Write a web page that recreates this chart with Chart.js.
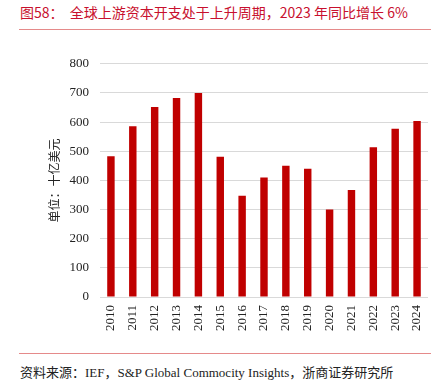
<!DOCTYPE html>
<html>
<head>
<meta charset="utf-8">
<script src="https://cdn.jsdelivr.net/npm/chart.js@4"></script>
<style>
  body { margin: 0; background: #fff; }
  #wrap { position: relative; width: 444px; height: 390px; overflow: hidden; }
  .title {
    position: absolute; left: 20px; top: 2px;
    font: 14px "Noto Sans CJK SC", sans-serif; color: #c8102e; white-space: pre;
  }
  .rule { position: absolute; left: 19px; width: 412px; height: 1px; background: #e58a8a; }
  .source {
    position: absolute; left: 20px; top: 362px;
    font: 13px "Liberation Serif", "Noto Sans CJK SC", serif; color: #222; white-space: pre;
  }
  #box { position: absolute; left: 0; top: 45px; width: 444px; height: 300px; }
</style>
</head>
<body>
<div id="wrap">
  <div class="title">图58：  全球上游资本开支处于上升周期，2023 年同比增长 6%</div>
  <div class="rule" style="top:29px"></div>
  <div id="box"><canvas id="capex"></canvas></div>
  <div class="rule" style="top:353px"></div>
  <div class="source">资料来源：IEF，S&amp;P Global Commocity Insights，浙商证券研究所</div>
</div>
<script>
const years = ['2010', '2011', '2012', '2013', '2014', '2015', '2016', '2017',
  '2018', '2019', '2020', '2021', '2022', '2023', '2024'];
const capex = [483, 586, 652, 683, 700, 481, 347, 410, 450, 440, 300, 367, 514, 577, 604];
const yTicks = [0, 100, 200, 300, 400, 500, 600, 700, 800];

const serif = {family: '"Liberation Serif", "Times New Roman", serif', size: 13};

const ctx = document.getElementById('capex').getContext('2d');
const capexChart = new Chart(ctx, {
  type: 'bar',
  data: {
    labels: years,
    datasets: [{
      data: capex,
      backgroundColor: '#c00000',
      categoryPercentage: 1,
      barPercentage: 0.34
    }]
  },
  options: {
    responsive: true,
    maintainAspectRatio: false,
    animation: false,
    layout: {padding: {left: 20, right: 16, top: 14, bottom: 0}},
    plugins: {legend: {display: false}, tooltip: {enabled: false}},
    scales: {
      x: {
        grid: {display: false, drawTicks: false},
        border: {display: false},
        ticks: {minRotation: 90, maxRotation: 90, padding: 8, color: '#222', font: serif},
        afterFit: function(scale) { scale.height = 48; }
      },
      y: {
        min: 0,
        max: 800,
        afterBuildTicks: function(scale) { scale.ticks = yTicks.map(v => ({value: v})); },
        grid: {color: '#d9d9d9', lineWidth: 1, drawTicks: false},
        border: {display: false},
        ticks: {padding: 11, color: '#222', font: serif},
        title: {
          display: true,
          text: '单位：十亿美元',
          color: '#222',
          font: {family: '"Noto Sans CJK SC", sans-serif', size: 12},
          padding: {top: 27, bottom: 0}
        },
        afterFit: function(scale) { scale.width = 80; }
      }
    }
  }
});
</script>
</body>
</html>
